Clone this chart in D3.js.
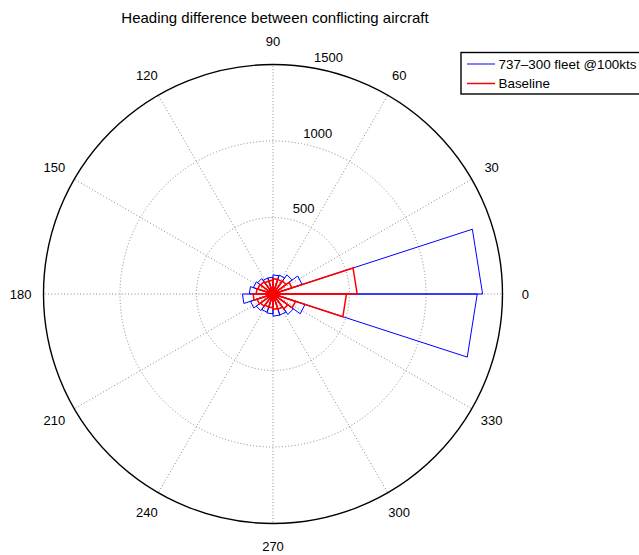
<!DOCTYPE html>
<html>
<head>
<meta charset="utf-8">
<script src="https://cdn.jsdelivr.net/npm/d3@7"></script>
<style>
  body { margin: 0; background: #fff; }
  svg { display: block; font-family: "Liberation Sans", Arial, sans-serif; }
</style>
</head>
<body>
<svg id="chart" width="639" height="555"></svg>
<script>
// 20 angle bins of 18 degrees, starting at 0
const binEdges = d3.range(0, 361, 18);

// counts per bin
const fleetCounts = [1370, 200, 155, 130, 125, 110, 110, 125, 135, 155,
                     200, 155, 135, 125, 130, 145, 145, 165, 220, 1335];
const baselineCounts = [550, 130, 105, 100, 100, 90, 90, 100, 105, 110,
                        130, 110, 100, 90, 90, 100, 105, 120, 155, 480];

const seriesNames = ['737\u2013300 fleet @100kts', 'Baseline'];
const seriesColors = ['#0000ff', '#ff0000'];
const seriesWidths = [1, 1.5];

const angleTicks = d3.range(0, 360, 30);
const radialTicks = [500, 1000, 1500];

const titleText = 'Heading difference between conflicting aircraft';

const cx = 273, cy = 294;
const rMax = 229.5;

const svg = d3.select('#chart');

const r = d3.scaleLinear().domain([0, 1500]).range([0, rMax]);
// math angle (deg, ccw from east) -> d3 radial angle (rad, cw from north)
const a = d3.scaleLinear().domain([0, 360]).range([Math.PI / 2, Math.PI / 2 - 2 * Math.PI]);

const g = svg.append('g').attr('transform', `translate(${cx},${cy})`);

// background disk
g.append('circle').attr('r', r(1500)).attr('fill', '#fff');

// dotted grid circles
g.selectAll('.ring')
  .data(radialTicks.slice(0, -1))
  .enter()
  .append('circle')
  .attr('class', 'ring')
  .attr('r', (d) => r(d))
  .attr('fill', 'none')
  .attr('stroke', '#888')
  .attr('stroke-width', 1)
  .attr('stroke-dasharray', '1,2.2');

// dotted spokes
g.selectAll('.spoke')
  .data(angleTicks)
  .enter()
  .append('line')
  .attr('class', 'spoke')
  .attr('x1', 0)
  .attr('y1', 0)
  .attr('x2', (d) => r(1500) * Math.sin(a(d)))
  .attr('y2', (d) => -r(1500) * Math.cos(a(d)))
  .attr('stroke', '#888')
  .attr('stroke-width', 1)
  .attr('stroke-dasharray', '1,2.2');

// outer circle
g.append('circle')
  .attr('r', r(1500))
  .attr('fill', 'none')
  .attr('stroke', '#000')
  .attr('stroke-width', 1.4);

// angle labels
g.selectAll('.alabel')
  .data(angleTicks)
  .enter()
  .append('text')
  .attr('class', 'alabel')
  .attr('x', (d) => 1.1 * r(1500) * Math.sin(a(d)))
  .attr('y', (d) => -1.1 * r(1500) * Math.cos(a(d)))
  .attr('text-anchor', 'middle')
  .attr('dominant-baseline', 'central')
  .attr('font-size', 13)
  .text((d) => d);

// radial labels at 82 degrees
g.selectAll('.rlabel')
  .data(radialTicks)
  .enter()
  .append('text')
  .attr('class', 'rlabel')
  .attr('x', (d) => (r(d) + 3.8) * Math.sin(a(82)) + 8.5)
  .attr('y', (d) => -(r(d) + 3.8) * Math.cos(a(82)) - 1)
  .attr('font-size', 13)
  .text((d) => d);

// rose wedges
const wedge = d3.lineRadial()
  .angle((d) => a(d[0]))
  .radius((d) => r(d[1]));

function drawRose(counts, color, width) {
  g.append('g')
    .selectAll('path')
    .data(counts)
    .enter()
    .append('path')
    .attr('d', (d, i) => wedge([[binEdges[i], 0], [binEdges[i], d], [binEdges[i + 1], d], [binEdges[i + 1], 0]]))
    .attr('fill', 'none')
    .attr('stroke', color)
    .attr('stroke-width', width)
    .attr('stroke-linejoin', 'miter');
}

drawRose(fleetCounts, seriesColors[0], seriesWidths[0]);
drawRose(baselineCounts, seriesColors[1], seriesWidths[1]);

// title
svg.append('text')
  .attr('x', 275)
  .attr('y', 22.5)
  .attr('text-anchor', 'middle')
  .attr('font-size', 15)
  .text(titleText);

// legend
const legend = svg.append('g').attr('transform', 'translate(461,52.5)');
legend.append('rect')
  .attr('width', 200)
  .attr('height', 41.5)
  .attr('fill', '#fff')
  .attr('stroke', '#000')
  .attr('stroke-width', 1.4);

seriesNames.forEach((name, i) => {
  const y = 11.5 + i * 19.5;
  legend.append('line')
    .attr('x1', 6)
    .attr('x2', 34)
    .attr('y1', y)
    .attr('y2', y)
    .attr('stroke', seriesColors[i])
    .attr('stroke-width', seriesWidths[i]);
  legend.append('text')
    .attr('x', 37.5)
    .attr('y', y)
    .attr('dominant-baseline', 'central')
    .attr('font-size', 13.4)
    .text(name);
});
</script>
</body>
</html>
